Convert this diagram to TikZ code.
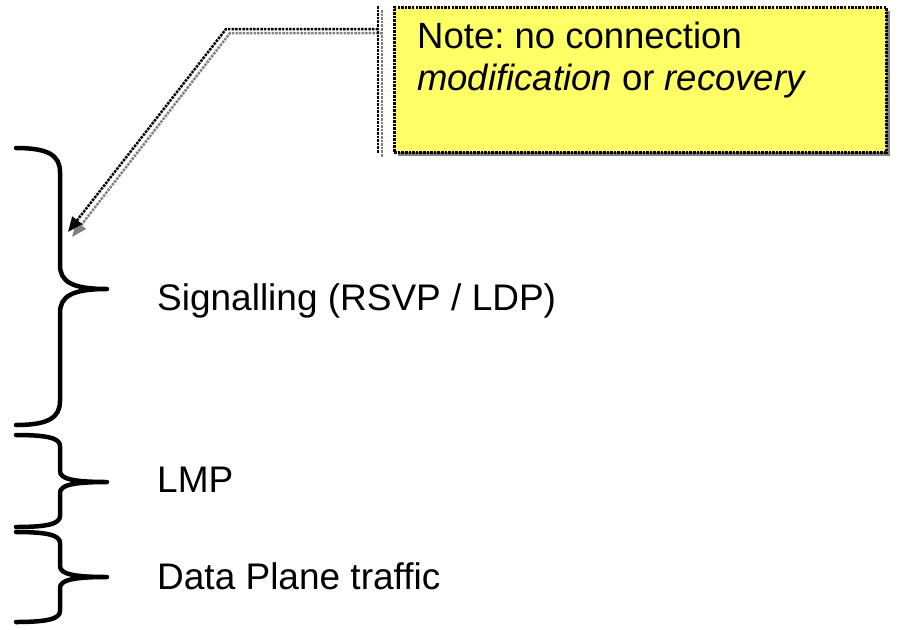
\documentclass[tikz,border=0pt]{standalone}
\usepackage{fontspec}
\setmainfont{Liberation Sans}
\frenchspacing
\usetikzlibrary{arrows.meta,positioning,shadows}
\tikzset{
    %Define standard arrow tip
    >={Triangle[length=15pt,width=12pt]},
    %Define style for braces
    klamra/.style={
           line width=4.5pt,
           line cap=round,
           line join=round},
    %Define style for labels
    etykieta/.style={
           anchor=base west,
           inner sep=0pt,
           font=\fontsize{37}{42}\selectfont},
    %Define style for the note box
    notka/.style={
           rectangle,
           anchor=north west,
           fill={rgb,255:red,255;green,255;blue,102},
           draw=black, line width=2.5pt,
           dash pattern=on 2.5pt off 1.1pt,
           minimum width=492pt,
           minimum height=145pt,
           drop shadow={shadow xshift=4pt, shadow yshift=-4pt,
                        fill=gray, opacity=1}},
    % Define leader line style
    kropki/.style={
           line width=2.5pt,
           dash pattern=on 2.5pt off 1.1pt},
    cien/.style={
           kropki,
           draw=gray}
}
\begin{document}
\begin{tikzpicture}[x=1pt,y=-1pt]
\useasboundingbox (0,0) rectangle (899,629);

% braces
\foreach \t/\m/\b/\r in {148/289/425/24, 435/482/527/11, 532/577/622/11}
  \draw[klamra] (16,\t) .. controls (48,\t) and (60,\t+0.3*\r) .. (60,\t+\r)
     -- (60,\m-\r) .. controls (60,\m-0.3*\r) and (72,\m) .. (107,\m)
     .. controls (72,\m) and (60,\m+0.3*\r) .. (60,\m+\r)
     -- (60,\b-\r) .. controls (60,\b-0.3*\r) and (48,\b) .. (16,\b);

\node[etykieta] (sig) at (157,310) {Signalling (RSVP / LDP)};
\node[etykieta] (lmp) at (157,492) {LMP};
\node[etykieta] (data) at (157,589) {Data Plane traffic};

% note
\node[notka] (note) at (393,6) {};
\node[anchor=north west, inner sep=0pt, align=left,
      font=\fontsize{36.5}{42}\selectfont] (notetext) at (417,22)
  {Note: no connection\\\textit{modification} or \textit{recovery}};

\coordinate[left=15pt of note.north west] (bartop);
\coordinate[left=15pt of note.south west] (barbot);
\coordinate (bar) at (378,29);
\coordinate (bend) at (226,29);
\coordinate (tip) at (68,232);

% shadow of the leader
\draw[cien] ([shift={(4pt,-4pt)}]bartop) -- ([shift={(4pt,-4pt)}]barbot);
\draw[cien, ->, >={Triangle[length=15pt,width=12pt,fill=gray]}]
  ([shift={(4pt,-4pt)}]bar) -- ([shift={(4pt,-4pt)}]bend) -- ([shift={(4pt,-5pt)}]tip);
\draw[kropki] (bartop) -- (barbot);
\draw[kropki, ->] (bar) -- (bend) -- (tip);
\end{tikzpicture}
\end{document}
